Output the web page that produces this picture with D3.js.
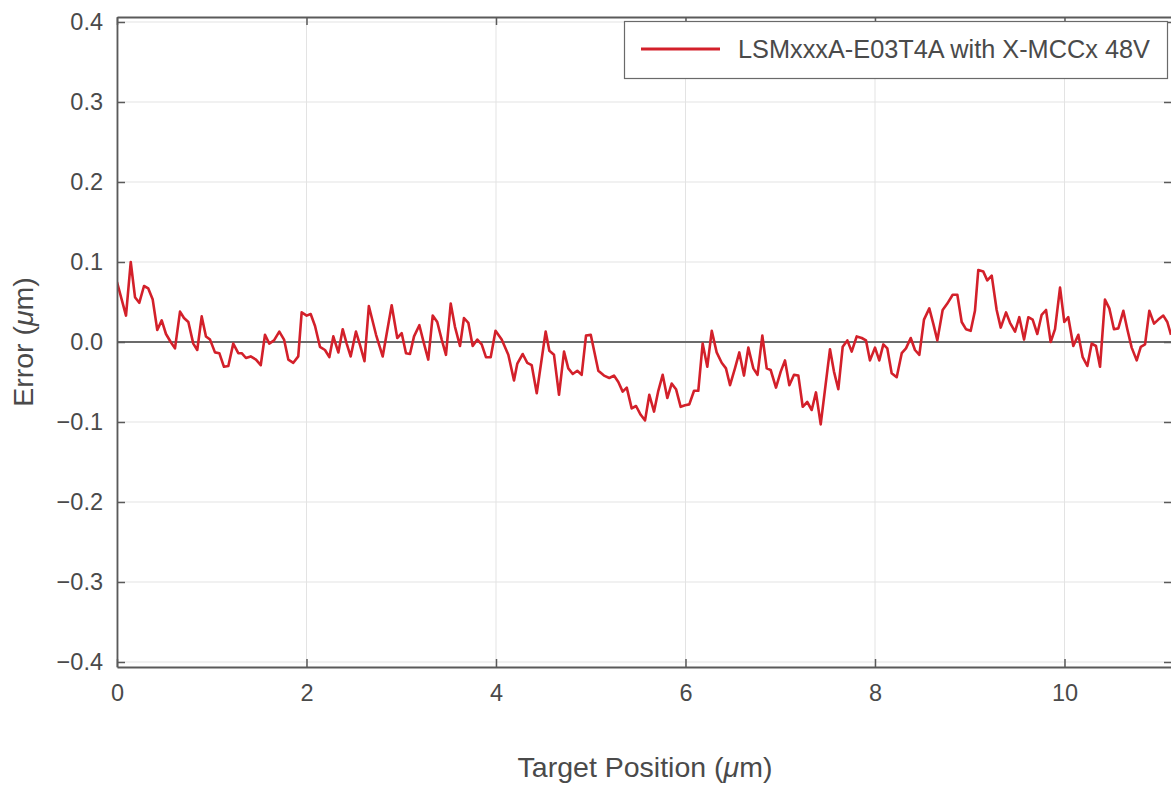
<!DOCTYPE html>
<html>
<head>
<meta charset="utf-8">
<script src="https://cdn.jsdelivr.net/npm/d3@7"></script>
<style>
  html, body { margin: 0; padding: 0; background: #fff; overflow: hidden; }
  svg { display: block; font-family: Arial, "Liberation Sans", Helvetica, sans-serif; }
</style>
</head>
<body>
<svg id="chart" width="1171" height="787"></svg>
<script>
// ---- data ----
const positions = [
 0.000,0.095,0.145,0.190,0.235,0.285,0.330,0.377,0.425,0.472,0.517,0.567,0.612,0.665,0.707,0.753,0.805,0.847,0.894,0.939,
 0.982,1.034,1.080,1.129,1.175,1.227,1.280,1.316,1.361,1.411,1.467,1.517,1.562,1.607,1.657,1.713,1.763,1.808,1.861,1.913,
 1.949,2.002,2.044,2.090,2.142,2.195,2.241,2.283,2.336,2.382,2.424,2.466,2.522,2.565,2.612,2.658,2.734,2.804,2.899,2.958,
 3.005,3.050,3.092,3.135,3.191,3.240,3.285,3.332,3.380,3.427,3.472,3.522,3.567,3.620,3.662,3.708,3.754,3.803,3.849,3.894,
 3.944,3.995,4.060,4.130,4.190,4.225,4.282,4.330,4.377,4.430,4.524,4.563,4.612,4.665,4.718,4.763,4.810,4.858,4.904,4.950,
 5.000,5.080,5.140,5.196,5.245,5.291,5.337,5.380,5.432,5.478,5.527,5.573,5.618,5.668,5.713,5.759,5.808,5.854,5.900,5.949,
 5.995,6.040,6.090,6.135,6.181,6.230,6.277,6.329,6.382,6.427,6.470,6.522,6.568,6.617,6.663,6.716,6.760,6.811,6.857,6.899,
 6.955,7.005,7.050,7.096,7.145,7.191,7.237,7.285,7.332,7.377,7.427,7.525,7.567,7.613,7.659,7.708,7.754,7.807,7.860,7.905,
 7.947,8.000,8.045,8.088,8.130,8.176,8.229,8.282,8.327,8.377,8.422,8.468,8.517,8.573,8.615,8.658,8.714,8.763,8.820,8.869,
 8.915,8.960,9.010,9.055,9.090,9.143,9.185,9.232,9.284,9.327,9.383,9.425,9.478,9.523,9.573,9.618,9.664,9.713,9.759,9.805,
 9.854,9.900,9.953,9.998,10.040,10.093,10.146,10.192,10.241,10.287,10.332,10.375,10.427,10.473,10.522,10.568,10.621,10.663,10.709,10.762,
 10.805,10.850,10.895,10.945,10.990,11.043,11.085,11.124
];
const errors = [
 0.075,0.033,0.100,0.056,0.049,0.070,0.067,0.053,0.015,0.027,0.010,0.000,-0.008,0.038,0.030,0.025,-0.002,-0.010,0.032,0.007,
 0.003,-0.013,-0.014,-0.031,-0.030,-0.002,-0.014,-0.014,-0.020,-0.018,-0.022,-0.029,0.009,-0.002,0.002,0.013,0.003,-0.022,-0.026,-0.018,
 0.037,0.033,0.035,0.020,-0.006,-0.010,-0.019,0.007,-0.013,0.016,-0.002,-0.018,0.013,-0.004,-0.024,0.045,0.009,-0.018,0.046,0.005,
 0.011,-0.014,-0.015,0.007,0.021,-0.002,-0.022,0.033,0.025,0.003,-0.016,0.048,0.019,-0.005,0.030,0.024,-0.005,0.003,-0.003,-0.019,
 -0.019,0.014,0.003,-0.016,-0.048,-0.027,-0.015,-0.026,-0.029,-0.064,0.013,-0.011,-0.016,-0.066,-0.012,-0.033,-0.040,-0.036,-0.041,0.008,
 0.009,-0.036,-0.042,-0.045,-0.042,-0.050,-0.062,-0.057,-0.083,-0.080,-0.091,-0.098,-0.066,-0.087,-0.061,-0.041,-0.070,-0.052,-0.059,-0.081,
 -0.079,-0.078,-0.061,-0.061,-0.002,-0.031,0.014,-0.013,-0.026,-0.033,-0.054,-0.033,-0.013,-0.042,-0.007,-0.033,-0.041,0.008,-0.033,-0.035,
 -0.057,-0.037,-0.023,-0.054,-0.041,-0.042,-0.081,-0.075,-0.085,-0.063,-0.103,-0.009,-0.037,-0.059,-0.006,0.002,-0.012,0.007,0.005,0.002,
 -0.023,-0.007,-0.023,-0.003,-0.008,-0.039,-0.044,-0.014,-0.008,0.005,-0.010,-0.016,0.028,0.042,0.023,0.002,0.040,0.048,0.059,0.059,
 0.025,0.016,0.014,0.039,0.090,0.088,0.077,0.083,0.040,0.018,0.037,0.024,0.013,0.031,0.003,0.031,0.028,0.010,0.034,0.040,
 0.000,0.016,0.068,0.025,0.031,-0.005,0.009,-0.019,-0.030,-0.002,-0.005,-0.031,0.053,0.042,0.016,0.017,0.039,0.016,-0.007,-0.023,
 -0.006,-0.003,0.039,0.023,0.028,0.033,0.025,0.009
];
const xTicks = [0, 2, 4, 6, 8, 10];
const yTicks = [-0.4, -0.3, -0.2, -0.1, 0.0, 0.1, 0.2, 0.3, 0.4];
const seriesName = "LSMxxxA-E03T4A with X-MCCx 48V";

// ---- layout ----
const svg = d3.select("#chart");
const L = 117, R = 1172, T = 17, B = 667;
const x = d3.scaleLinear().domain([0, (R - L) / 94.75]).range([L, R]);
const y = d3.scaleLinear().domain([-0.40625, 0.40625]).range([B, T]);

const frameColor = "#5a5a5a";
const textColor = "#4a4a4a";

// grid
svg.append("g").selectAll("line").data(xTicks).join("line")
  .attr("x1", d => x(d)).attr("x2", d => x(d)).attr("y1", T).attr("y2", B)
  .attr("stroke", "#e3e3e3").attr("stroke-width", 1);
svg.append("g").selectAll("line").data(yTicks).join("line")
  .attr("x1", L).attr("x2", R).attr("y1", d => y(d)).attr("y2", d => y(d))
  .attr("stroke", "#e3e3e3").attr("stroke-width", 1);

// zero line
svg.append("line").attr("x1", L).attr("x2", R).attr("y1", y(0)).attr("y2", y(0))
  .attr("stroke", "#6b6b6b").attr("stroke-width", 1.8);

// data line
svg.append("defs").append("clipPath").attr("id", "clip")
  .append("rect").attr("x", L).attr("y", T).attr("width", R - L).attr("height", B - T);
const pts = positions.map((p, i) => [p, errors[i]]);
svg.append("path").datum(pts)
  .attr("clip-path", "url(#clip)")
  .attr("fill", "none").attr("stroke", "#d3202a").attr("stroke-width", 2.6)
  .attr("stroke-linejoin", "round")
  .attr("d", d3.line().x(d => x(d[0])).y(d => y(d[1])));

// axes (inward ticks, MATLAB-style box)
const fmtY = d => d3.format(".1f")(d).replace("-", "\u2212");
const axB = svg.append("g").attr("transform", `translate(0,${B})`)
  .call(d3.axisBottom(x).tickValues(xTicks).tickSizeInner(-8).tickSizeOuter(0).tickPadding(17).tickFormat(d3.format("d")));
const axT = svg.append("g").attr("transform", `translate(0,${T})`)
  .call(d3.axisTop(x).tickValues(xTicks).tickSizeInner(-8).tickSizeOuter(0).tickFormat(""));
const axL = svg.append("g").attr("transform", `translate(${L},0)`)
  .call(d3.axisLeft(y).tickValues(yTicks).tickSizeInner(-8).tickSizeOuter(0).tickPadding(14).tickFormat(fmtY));
const axR = svg.append("g").attr("transform", `translate(${R},0)`)
  .call(d3.axisRight(y).tickValues(yTicks).tickSizeInner(-8).tickSizeOuter(0).tickFormat(""));
[axB, axT, axL, axR].forEach(a => {
  a.select(".domain").attr("stroke", frameColor).attr("stroke-width", 1.8);
  a.selectAll(".tick line").attr("stroke", frameColor).attr("stroke-width", 1.5);
  a.selectAll("text").attr("fill", textColor).style("font-size", "23.5px")
    .style("font-family", "Arial, 'Liberation Sans', sans-serif");
});

// axis labels
const xl = svg.append("text").attr("x", 645).attr("y", 777).attr("text-anchor", "middle")
  .attr("fill", textColor).style("font-size", "28.5px");
xl.append("tspan").text("Target Position (");
xl.append("tspan").attr("font-style", "italic").text("\u03bc");
xl.append("tspan").text("m)");

const yl = svg.append("text").attr("transform", `translate(33,${(T + B) / 2}) rotate(-90)`)
  .attr("text-anchor", "middle").attr("fill", textColor).style("font-size", "28.5px");
yl.append("tspan").text("Error (");
yl.append("tspan").attr("font-style", "italic").text("\u03bc");
yl.append("tspan").text("m)");

// legend
const lg = svg.append("g");
lg.append("rect").attr("x", 624.5).attr("y", 21.5).attr("width", 543).attr("height", 57)
  .attr("fill", "#fff").attr("stroke", "#6a6a6a").attr("stroke-width", 1.2);
lg.append("line").attr("x1", 641).attr("x2", 720).attr("y1", 49).attr("y2", 49)
  .attr("stroke", "#d3202a").attr("stroke-width", 2.8);
lg.append("text").attr("x", 738).attr("y", 58).attr("fill", textColor)
  .style("font-size", "25.3px").text(seriesName);
</script>
</body>
</html>
